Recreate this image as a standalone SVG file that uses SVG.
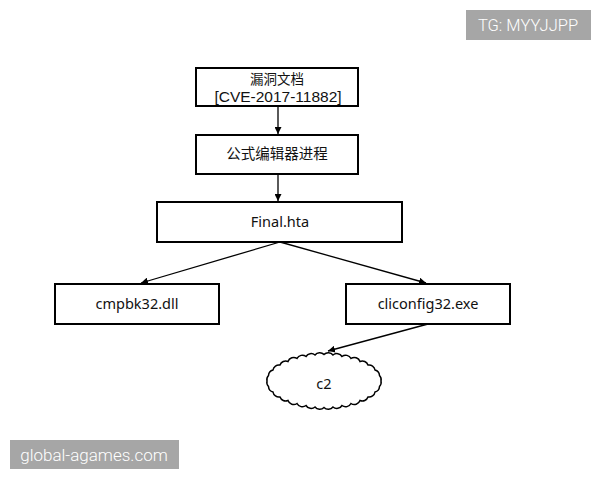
<svg xmlns="http://www.w3.org/2000/svg" width="600" height="480" viewBox="0 0 600 480">
<style>
.box{fill:#fff;stroke:#000;stroke-width:2}
.lbl{font-family:"Noto Sans","Noto Sans CJK SC",sans-serif;font-size:14.5px;fill:#111;text-anchor:middle}
.edge{stroke:#000;stroke-width:1.3;fill:none;marker-end:url(#ah)}
.wm{fill:#a6a6a6}
.wmt{font-family:Roboto,"Liberation Sans",sans-serif;font-weight:300;fill:#fff;text-anchor:middle}
</style>
<defs>
<marker id="ah" viewBox="0 0 10 10" refX="10" refY="5" markerWidth="7" markerHeight="7" markerUnits="userSpaceOnUse" orient="auto">
<path d="M0,0 L10,5 L0,10 z" fill="#000"/>
</marker>
</defs>
<rect width="600" height="480" fill="#fff"/>
<g id="connectors">
<line class="edge" x1="278" y1="106" x2="278" y2="134"/>
<line class="edge" x1="278" y1="174" x2="278" y2="201"/>
<line class="edge" x1="280" y1="242" x2="141" y2="283"/>
<line class="edge" x1="280" y1="242" x2="426" y2="283"/>
<line class="edge" x1="428" y1="324" x2="328" y2="351"/>
</g>
<g id="vuln">
<rect class="box" x="196" y="68" width="162" height="38"/>
<text class="lbl" x="277" y="83.5" style="font-size:13.5px">漏洞文档</text>
<text class="lbl" x="278" y="102" style="font-size:15.5px;font-family:'Liberation Sans',sans-serif">[CVE-2017-11882]</text>
</g>
<g id="editor">
<rect class="box" x="196" y="135" width="162" height="39"/>
<text class="lbl" x="277" y="159">公式编辑器进程</text>
</g>
<g id="final">
<rect class="box" x="157" y="202" width="245" height="40"/>
<text class="lbl" x="280" y="227">Final.hta</text>
</g>
<g id="cmpbk">
<rect class="box" x="55" y="284" width="164" height="40"/>
<text class="lbl" x="137" y="309">cmpbk32.dll</text>
</g>
<g id="cliconfig">
<rect class="box" x="346" y="284" width="164" height="40"/>
<text class="lbl" x="428" y="309">cliconfig32.exe</text>
</g>
<g id="c2">
<path fill="#fff" stroke="#000" stroke-width="1.5" d="M267,381 A6,6 0 0 1 268.5,375.5 A6,6 0 0 1 273,370 A6,6 0 0 1 280,365 A6,6 0 0 1 288,361.5 A6,6 0 0 1 297,358.5 A6,6 0 0 1 306,356.5 A6,6 0 0 1 315,355 A6,6 0 0 1 324,354.5 A6,6 0 0 1 333,355 A6,6 0 0 1 342,356.5 A6,6 0 0 1 351,358.5 A6,6 0 0 1 360,361.5 A6,6 0 0 1 368,365 A6,6 0 0 1 375,370 A6,6 0 0 1 379.5,375.5 A6,6 0 0 1 381,381 A6,6 0 0 1 379.5,386.5 A6,6 0 0 1 375,392 A6,6 0 0 1 368,397 A6,6 0 0 1 360,400.5 A6,6 0 0 1 351,403.5 A6,6 0 0 1 342,405.5 A6,6 0 0 1 333,407 A6,6 0 0 1 324,407.5 A6,6 0 0 1 315,407 A6,6 0 0 1 306,405.5 A6,6 0 0 1 297,403.5 A6,6 0 0 1 288,400.5 A6,6 0 0 1 280,397 A6,6 0 0 1 273,392 A6,6 0 0 1 268.5,386.5 A6,6 0 0 1 267,381 z"/>
<text class="lbl" x="324" y="389">c2</text>
</g>
<g id="wm1">
<rect class="wm" x="466" y="10" width="125" height="30"/>
<text class="wmt" x="528" y="31" style="font-size:16.5px">TG: MYYJJPP</text>
</g>
<g id="wm2">
<rect class="wm" x="10" y="440" width="169" height="29"/>
<text class="wmt" x="94" y="461" style="font-size:17px">global-agames.com</text>
</g>
</svg>
